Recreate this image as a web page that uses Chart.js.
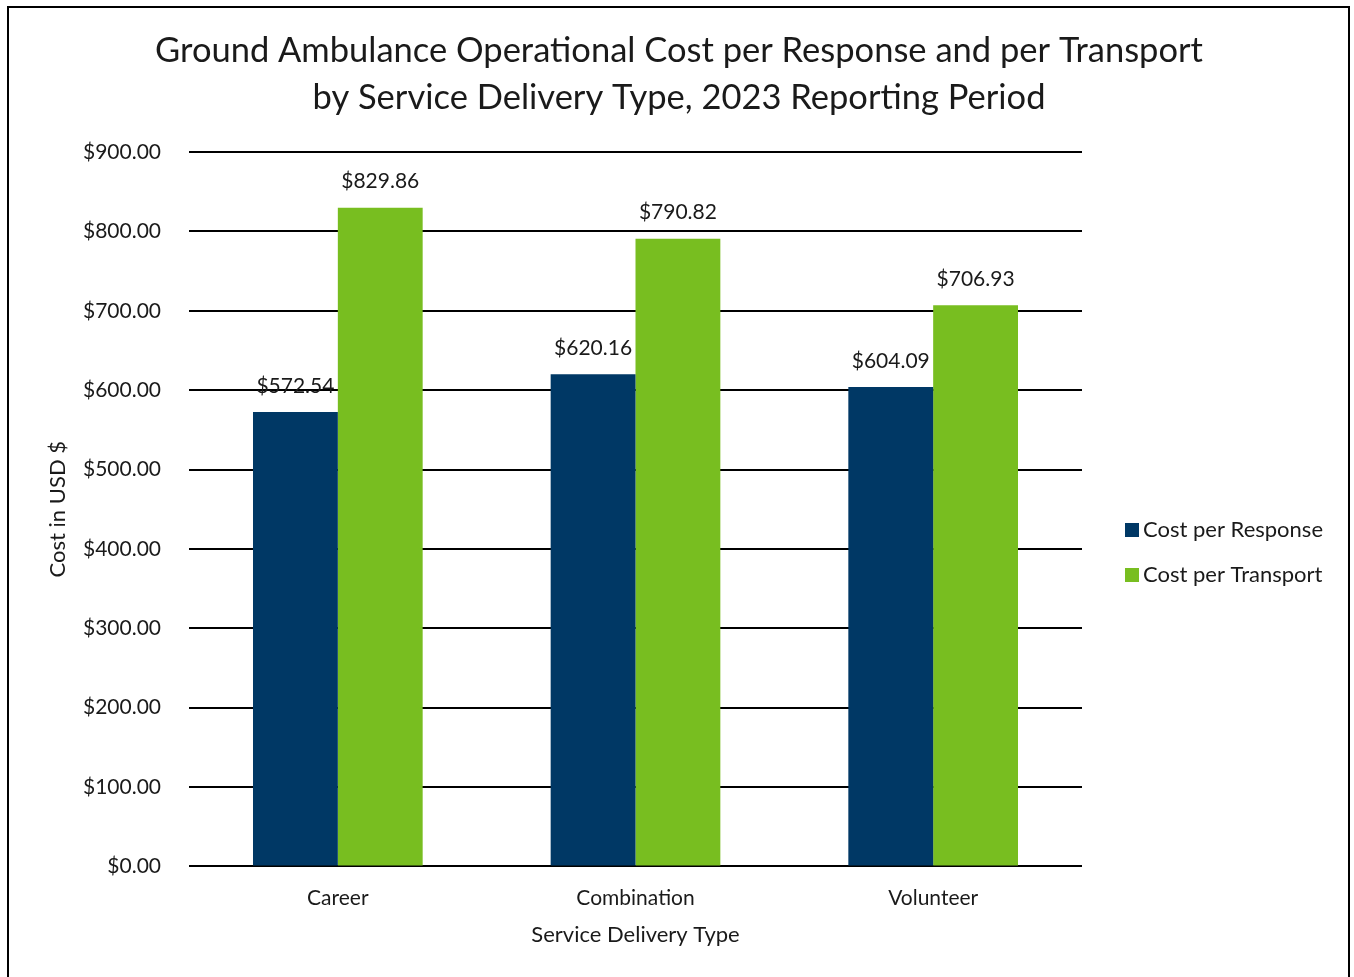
<!DOCTYPE html>
<html>
<head>
<meta charset="utf-8">
<script src="https://cdn.jsdelivr.net/npm/chart.js@4"></script>
<style>
    html, body { margin: 0; padding: 0; background: #fff; }
    #frame {
        position: absolute;
        left: 7px; top: 6px;
        width: 1343px; height: 980px;
        border: 2px solid #000;
        box-sizing: border-box;
    }
    #wrap { position: absolute; left: 0; top: 0; width: 1354px; height: 977px; }
</style>
</head>
<body>
<div id="frame"></div>
<div id="wrap"><canvas id="chart"></canvas></div>
<script>
const categories = ['Career', 'Combination', 'Volunteer'];
const costPerResponse = [572.54, 620.16, 604.09];
const costPerTransport = [829.86, 790.82, 706.93];
const seriesNames = ['Cost per Response', 'Cost per Transport'];
const titleLines = ['Ground Ambulance Operational Cost per Response and per Transport',
                    'by Service Delivery Type, 2023 Reporting Period'];

const FONT = 'Lato, "Open Sans", sans-serif';
const TEXT = '#1a1a1a';

function money(v) {
    return '$' + Number(v).toFixed(2);
}

// value labels above each bar
const valueLabels = {
    id: 'valueLabels',
    afterDatasetsDraw(chart) {
        const ctx = chart.ctx;
        ctx.save();
        ctx.font = '21px ' + FONT;
        ctx.fillStyle = TEXT;
        ctx.textAlign = 'center';
        ctx.textBaseline = 'middle';
        chart.data.datasets.forEach((ds, i) => {
            chart.getDatasetMeta(i).data.forEach((bar, j) => {
                ctx.fillText(money(ds.data[j]), bar.x, bar.y - 26);
            });
        });
        ctx.restore();
    }
};

// title centred on the whole frame, legend on the right
const frameText = {
    id: 'frameText',
    afterDraw(chart) {
        const ctx = chart.ctx;
        ctx.save();
        ctx.fillStyle = TEXT;
        ctx.textBaseline = 'middle';

        ctx.font = '34.5px ' + FONT;
        ctx.textAlign = 'center';
        titleLines.forEach((line, i) => ctx.fillText(line, 679, 51 + i * 47));

        ctx.font = '22px ' + FONT;
        ctx.textAlign = 'left';
        chart.data.datasets.forEach((ds, i) => {
            const y = 530 + i * 45;
            ctx.fillStyle = ds.backgroundColor;
            ctx.fillRect(1125, y - 7, 14, 14);
            ctx.fillStyle = TEXT;
            ctx.fillText(ds.label, 1143, y);
        });
        ctx.restore();
    }
};

const ctx = document.getElementById('chart').getContext('2d');
const chart = new Chart(ctx, {
    type: 'bar',
    data: {
        labels: categories,
        datasets: [{
            label: seriesNames[0],
            data: costPerResponse,
            backgroundColor: '#003865'
        }, {
            label: seriesNames[1],
            data: costPerTransport,
            backgroundColor: '#78BE20'
        }]
    },
    options: {
        responsive: true,
        maintainAspectRatio: false,
        animation: false,
        layout: { padding: { left: 40, right: 272, top: 152, bottom: 25 } },
        datasets: {
            bar: { categoryPercentage: 0.57, barPercentage: 1.0 }
        },
        scales: {
            x: {
                grid: { display: false, drawTicks: false },
                border: { display: false },
                ticks: { font: { family: FONT, size: 21 }, color: TEXT, padding: 19 },
                title: {
                    display: true,
                    text: 'Service Delivery Type',
                    font: { family: FONT, size: 22 },
                    color: TEXT,
                    padding: { top: -8, bottom: 4 }
                }
            },
            y: {
                min: 0,
                max: 900,
                afterFit: scale => { scale.width = 149; },
                ticks: {
                    stepSize: 100,
                    font: { family: FONT, size: 21 },
                    color: TEXT,
                    padding: 28,
                    callback: value => money(value)
                },
                grid: { color: '#000', lineWidth: 2, drawTicks: false },
                border: { display: false },
                title: {
                    display: true,
                    text: 'Cost in USD $',
                    font: { family: FONT, size: 22 },
                    color: TEXT,
                    padding: { top: 5, bottom: 0 }
                }
            }
        },
        plugins: {
            title: { display: false },
            legend: { display: false },
            tooltip: { enabled: false }
        }
    },
    plugins: [valueLabels, frameText]
});
</script>
</body>
</html>
